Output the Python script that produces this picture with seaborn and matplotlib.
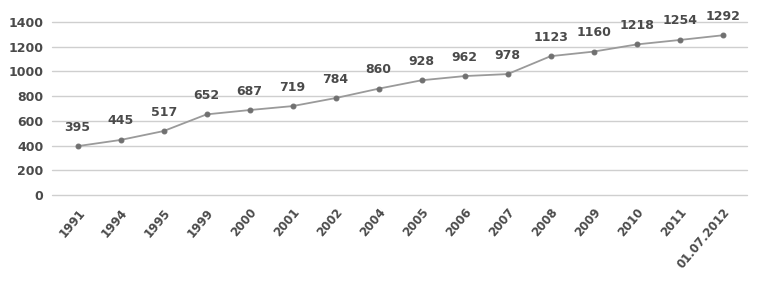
import matplotlib
matplotlib.use('Agg')
import matplotlib.pyplot as plt
import matplotlib.transforms as mtransforms
import seaborn as sns
import pandas as pd

# values
years = ['1991', '1994', '1995', '1999', '2000', '2001', '2002', '2004',
         '2005', '2006', '2007', '2008', '2009', '2010', '2011', '01.07.2012']
counts = [395, 445, 517, 652, 687, 719, 784, 860,
          928, 962, 978, 1123, 1160, 1218, 1254, 1292]
y_ticks = [0, 200, 400, 600, 800, 1000, 1200, 1400]

df = pd.DataFrame({'pos': range(len(years)), 'count': counts})

sns.set_style('white')
plt.rcParams['font.family'] = ['DejaVu Sans']

fig = plt.figure(figsize=(7.62, 2.85), dpi=100)
ax = fig.add_axes([0.068, 0.316, 0.912, 0.607])

sns.lineplot(data=df, x='pos', y='count', ax=ax, color='#9a9a9a',
             linewidth=1.3, marker='o', markersize=3.5,
             markerfacecolor='#707070', markeredgecolor='#707070')

# value labels above each point
for x, v in zip(df['pos'], df['count']):
    ax.annotate(f'{v}', (x, v), xytext=(0, 9), textcoords='offset points',
                ha='center', va='bottom', fontsize=9, fontweight='bold',
                color='#4a4a4a')

ax.set_ylim(0, 1400)
ax.set_yticks(y_ticks)
ax.set_xlim(-0.6, 15.56)
ax.set_xticks(range(len(years)))
ax.set_xticklabels(years, rotation=50, ha='right', rotation_mode='anchor',
                   fontsize=8.5, fontweight='bold', color='#4a4a4a')
shift = mtransforms.ScaledTranslation(-8 / 100, 0, fig.dpi_scale_trans)
for lbl in ax.get_xticklabels():
    lbl.set_transform(lbl.get_transform() + shift)
ax.tick_params(axis='y', labelsize=9, labelcolor='#4a4a4a', length=0, pad=6)
ax.tick_params(axis='x', length=0, pad=8)
for lbl in ax.get_yticklabels():
    lbl.set_fontweight('bold')

ax.grid(axis='y', color='#cfcfcf', linewidth=1, linestyle='-')
for gl in ax.get_ygridlines():
    gl.set_clip_on(False)
for s in ax.spines.values():
    s.set_visible(False)
ax.set_xlabel('')
ax.set_ylabel('')

fig.savefig('out.png', dpi=100)
